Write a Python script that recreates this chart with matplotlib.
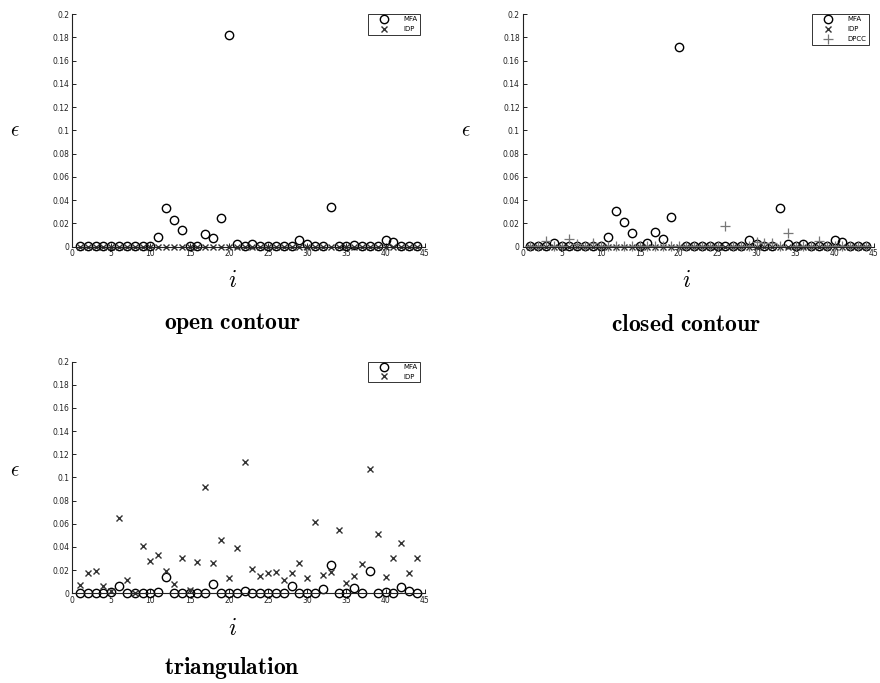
import numpy as np
import matplotlib
matplotlib.use('Agg')
import matplotlib.pyplot as plt
from matplotlib.ticker import FormatStrFormatter

plt.rcParams['mathtext.fontset'] = 'cm'
plt.rcParams['font.family'] = 'DejaVu Sans'

# sample index i = 1..44
idx = np.arange(1, 45)

# open contour
open_mfa = [0.0005, 0.0005, 0.0005, 0.001, 0.0005, 0.0005, 0.0005, 0.0008, 0.0005, 0.0008,
            0.008, 0.0329, 0.0229, 0.0143, 0.001, 0.0005, 0.011, 0.0074, 0.0243, 0.182,
            0.002, 0.0005, 0.0026, 0.001, 0.0005, 0.0005, 0.0005, 0.0005, 0.0057, 0.0026,
            0.0005, 0.0005, 0.0343, 0.001, 0.0005, 0.0015, 0.0005, 0.0005, 0.0005, 0.0057,
            0.0037, 0.0005, 0.0005, 0.0005]
open_idp = [0.0] * 44

# closed contour
closed_mfa = [0.0005, 0.0005, 0.0005, 0.003, 0.0005, 0.0005, 0.0005, 0.0005, 0.0005, 0.0005,
              0.0086, 0.0306, 0.0214, 0.012, 0.001, 0.003, 0.0129, 0.0063, 0.0257, 0.172,
              0.0005, 0.0005, 0.0005, 0.0005, 0.0005, 0.0005, 0.0005, 0.0005, 0.0057, 0.002,
              0.0005, 0.0005, 0.0329, 0.002, 0.0005, 0.002, 0.0005, 0.0005, 0.0005, 0.0057,
              0.004, 0.001, 0.0005, 0.0005]
closed_idp = [0.0] * 44
closed_dpcc = [0.001, 0.001, 0.0051, 0.001, 0.001, 0.0063, 0.002, 0.001, 0.0034, 0.001,
               0.001, 0.001, 0.001, 0.001, 0.001, 0.001, 0.001, 0.001, 0.001, 0.001,
               0.001, 0.001, 0.001, 0.001, 0.001, 0.018, 0.001, 0.001, 0.001, 0.0043,
               0.003, 0.003, 0.001, 0.0114, 0.001, 0.001, 0.001, 0.0049, 0.001, 0.001,
               0.001, 0.001, 0.001, 0.001]

# triangulation
tri_mfa = [0.0, 0.0, 0.0, 0.0005, 0.0014, 0.0063, 0.0, 0.0, 0.0005, 0.0,
           0.0014, 0.014, 0.0, 0.0, 0.0, 0.0, 0.0, 0.0077, 0.0, 0.0,
           0.0, 0.002, 0.0, 0.0, 0.0, 0.0, 0.0, 0.0063, 0.0, 0.0,
           0.0005, 0.004, 0.0246, 0.0, 0.0, 0.0049, 0.0, 0.0194, 0.0, 0.0014,
           0.0, 0.0057, 0.0023, 0.0005]
tri_idp = [0.0074, 0.0177, 0.0189, 0.0063, 0.0023, 0.0649, 0.0117, 0.0, 0.0409, 0.0277,
           0.0334, 0.0194, 0.0077, 0.0309, 0.0029, 0.0274, 0.0914, 0.026, 0.0463, 0.0134,
           0.0394, 0.113, 0.0214, 0.0146, 0.0177, 0.0183, 0.0114, 0.0177, 0.0263, 0.0131,
           0.0614, 0.0154, 0.018, 0.0543, 0.0089, 0.0149, 0.0257, 0.1069, 0.0514, 0.0143,
           0.0306, 0.0431, 0.0177, 0.0306]

xticks = np.arange(0, 46, 5)
yticks = np.arange(0, 0.201, 0.02)

fig = plt.figure(figsize=(8.8, 6.83), dpi=100)


def setup(ax):
    ax.set_xlim(0, 45)
    ax.set_ylim(0, 0.2)
    ax.set_xticks(xticks)
    ax.set_yticks(yticks)
    ax.yaxis.set_major_formatter(FormatStrFormatter('%g'))
    ax.spines['top'].set_visible(False)
    ax.spines['right'].set_visible(False)
    for s in ['left', 'bottom']:
        ax.spines[s].set_linewidth(0.8)
        ax.spines[s].set_color('#222222')
    ax.tick_params(direction='in', length=3, width=0.7, labelsize=5.5,
                   colors='#222222', pad=2)


def draw(ax, series):
    for vals, mk, kw, lab in series:
        ax.plot(idx, vals, linestyle='none', marker=mk, label=lab, clip_on=False, **kw)
    # legend box sits just inside the top right corner
    leg = ax.legend(loc='upper right', bbox_to_anchor=(1 - 5 / 353, 1.0), borderaxespad=0,
                    fontsize=5, frameon=True, fancybox=False, numpoints=1,
                    handlelength=3.9, borderpad=0.35, labelspacing=0.55,
                    handletextpad=0.8)
    leg.get_frame().set_edgecolor('black')
    leg.get_frame().set_linewidth(0.7)


circ = dict(markersize=6, markerfacecolor='none', markeredgecolor='black', markeredgewidth=1.0)
cross = dict(markersize=4.5, color='#333333', markeredgewidth=1.0)
plus = dict(markersize=7, color='#777777', markeredgewidth=0.9)

ax1 = fig.add_axes([0.0818, 0.6388, 0.401, 0.3407])
setup(ax1)
draw(ax1, [(open_mfa, 'o', circ, 'MFA'), (open_idp, 'x', cross, 'IDP')])

ax2 = fig.add_axes([0.5938, 0.6388, 0.399, 0.3407])
setup(ax2)
draw(ax2, [(closed_mfa, 'o', circ, 'MFA'), (closed_idp, 'x', cross, 'IDP'),
           (closed_dpcc, '+', plus, 'DPCC')])

ax3 = fig.add_axes([0.0818, 0.1313, 0.401, 0.3394])
setup(ax3)
draw(ax3, [(tri_mfa, 'o', circ, 'MFA'), (tri_idp, 'x', cross, 'IDP')])

# axis labels and captions
for (ex, ey) in [(15, 130), (466, 130), (15, 470)]:
    fig.text(ex / 880, 1 - ey / 683, r'$\epsilon$', fontsize=15, ha='center', va='center')
for (ix, iy) in [(232, 280), (686, 280), (232, 628)]:
    fig.text(ix / 880, 1 - iy / 683, r'$i$', fontsize=17, ha='center', va='center')
for (tx, ty, t) in [(232, 324, r'$\mathbf{open\ contour}$'),
                    (686, 324, r'$\mathbf{closed\ contour}$'),
                    (232, 668, r'$\mathbf{triangulation}$')]:
    fig.text(tx / 880, 1 - ty / 683, t, fontsize=17, ha='center', va='center')

plt.savefig('out.png', dpi=100)
